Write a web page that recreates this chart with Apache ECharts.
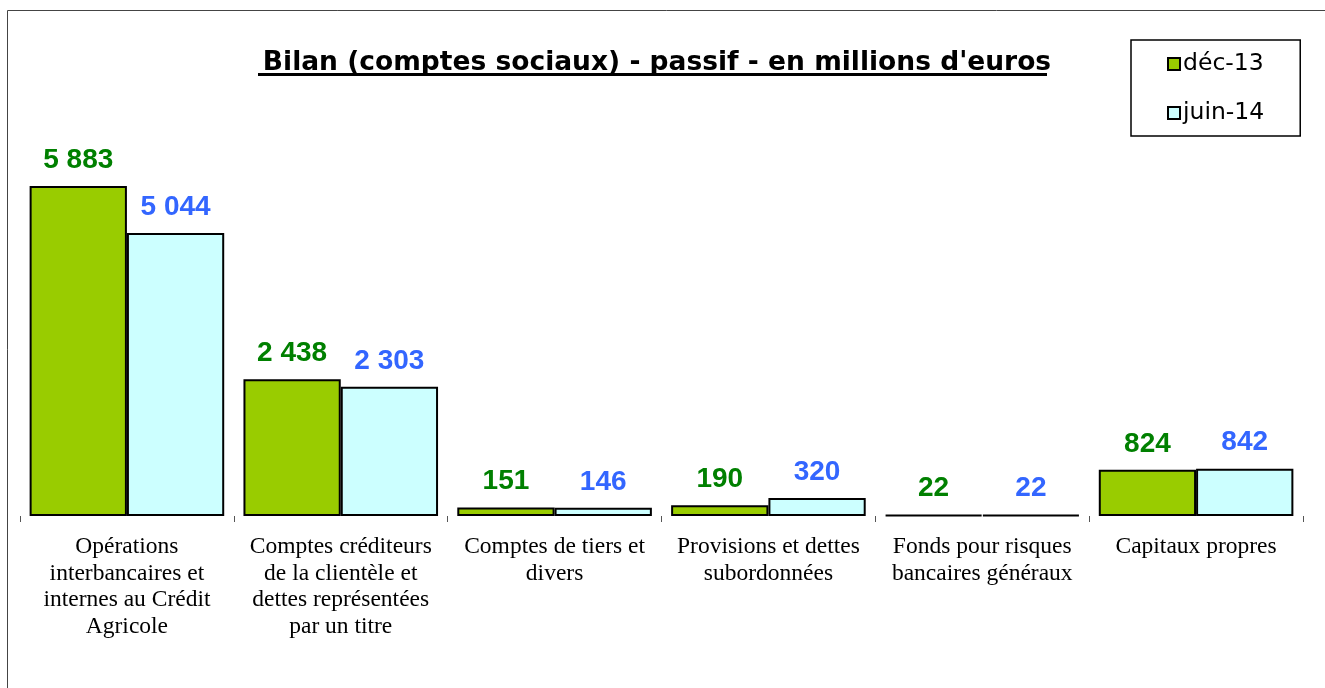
<!DOCTYPE html>
<html>
<head>
<meta charset="utf-8">
<script src="https://cdn.jsdelivr.net/npm/echarts@6/dist/echarts.min.js"></script>
<style>
  html, body { margin: 0; padding: 0; background: #fff; }
  #chart { width: 1325px; height: 688px; }
</style>
</head>
<body>
<div id="chart"></div>
<script>
// données
const categories = [
  'Opérations\ninterbancaires et\ninternes au Crédit\nAgricole',
  'Comptes créditeurs\nde la clientèle et\ndettes représentées\npar un titre',
  'Comptes de tiers et\ndivers',
  'Provisions et dettes\nsubordonnées',
  'Fonds pour risques\nbancaires généraux',
  'Capitaux propres'
]
const dec13 = [5883, 2438, 151, 190, 22, 824]
const juin14 = [5044, 2303, 146, 320, 22, 842]

const fmt = p => String(p.value).replace(/\B(?=(\d{3})+(?!\d))/g, ' ')

const chart = echarts.init(document.getElementById('chart'))

chart.setOption({
  animation: false,
  title: {
    text: 'Bilan (comptes sociaux) - passif - en millions d\'euros',
    left: 652,
    top: 45,
    textAlign: 'center',
    textStyle: {
      fontFamily: 'DejaVu Sans',
      fontWeight: 'bold',
      fontSize: 26.5,
      color: '#000'
    }
  },
  legend: {
    orient: 'vertical',
    left: 1131,
    top: 40,
    padding: [12, 36, 11, 36],
    itemGap: 25,
    itemWidth: 12,
    itemHeight: 12,
    icon: 'rect',
    borderColor: '#000',
    borderWidth: 1.5,
    textStyle: {
      fontFamily: 'DejaVu Sans',
      fontSize: 23.5,
      color: '#000',
      padding: [0, 0, 0, -2]
    },
    data: ['déc-13', 'juin-14']
  },
  graphic: [
    {
      // cadre
      type: 'rect',
      shape: { x: 7.5, y: 10.5, width: 1400, height: 800 },
      style: { fill: 'none', stroke: '#444', lineWidth: 1 },
      silent: true
    },
    {
      // soulignement du titre
      type: 'line',
      shape: { x1: 258, y1: 74.5, x2: 1047, y2: 74.5 },
      style: { stroke: '#000', lineWidth: 3 },
      silent: true
    }
  ],
  grid: {
    left: 20,
    right: 22,
    top: 179.5,
    bottom: 172
  },
  xAxis: {
    type: 'category',
    data: categories,
    axisLine: { show: false },
    axisTick: { show: true, length: 6, lineStyle: { color: '#555' } },
    axisLabel: {
      interval: 0,
      margin: 18,
      fontFamily: 'Liberation Serif, Times New Roman',
      fontSize: 23.5,
      lineHeight: 26.5,
      color: '#000'
    }
  },
  yAxis: {
    type: 'value',
    min: 0,
    max: 6000,
    show: false,
    splitLine: { show: false }
  },
  series: [
    {
      name: 'déc-13',
      type: 'bar',
      data: dec13,
      barGap: '0%',
      barCategoryGap: '9%',
      itemStyle: { color: '#99CC00', borderColor: '#000', borderWidth: 2 },
      label: {
        show: true,
        position: 'top',
        distance: 12,
        formatter: fmt,
        fontFamily: 'Liberation Sans, Arial',
        fontWeight: 'bold',
        fontSize: 28,
        color: '#008000'
      }
    },
    {
      name: 'juin-14',
      type: 'bar',
      data: juin14,
      itemStyle: { color: '#CCFFFF', borderColor: '#000', borderWidth: 2 },
      label: {
        show: true,
        position: 'top',
        distance: 12,
        formatter: fmt,
        fontFamily: 'Liberation Sans, Arial',
        fontWeight: 'bold',
        fontSize: 28,
        color: '#3366FF'
      }
    }
  ]
})
</script>
</body>
</html>
